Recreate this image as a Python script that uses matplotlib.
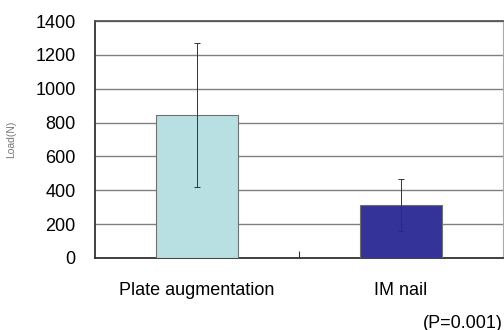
import matplotlib.pyplot as plt

# Data
categories = ["Plate augmentation", "IM nail"]
mean_load = [845, 313]
sd_load = [425, 155]
bar_colors = ["#b8e0e2", "#333399"]
y_ticks = [0, 200, 400, 600, 800, 1000, 1200, 1400]

plt.rcParams['font.family'] = ['Liberation Sans', 'DejaVu Sans']

fig = plt.figure(figsize=(5.04, 3.30), dpi=100)
ax = fig.add_axes([95 / 504, 72 / 330, 408 / 504, 237 / 330])

x = range(len(categories))
ax.bar(x, mean_load, width=0.4, color=bar_colors, edgecolor="#707070",
       linewidth=0.8, zorder=3)
ax.errorbar(x, mean_load, yerr=sd_load, fmt="none", ecolor="#333333",
            elinewidth=0.7, capsize=2.5, capthick=0.7, zorder=4)

ax.set_xlim(-0.5, 1.5)
ax.set_ylim(0, 1400)
ax.set_yticks(y_ticks)
ax.set_yticklabels([str(v) for v in y_ticks], fontsize=13)
ax.yaxis.grid(True, color="#808080", linewidth=1.0, zorder=0)
ax.set_axisbelow(True)

# category labels, with a single divider tick between categories
ax.set_xticks([0.5])
ax.set_xticklabels([""])
ax.tick_params(axis="x", direction="in", length=5, color="#333333")
ax.tick_params(axis="y", length=0, pad=14)
for i, name in enumerate(categories):
    ax.text(i, -140, name, ha="center", va="top", fontsize=13)

ax.spines["left"].set_color("#333333")
ax.spines["left"].set_linewidth(1.3)
ax.spines["bottom"].set_color("#333333")
ax.spines["bottom"].set_linewidth(1.3)
ax.spines["top"].set_color("#555555")
ax.spines["top"].set_linewidth(1.3)
ax.spines["right"].set_color("#aaaaaa")

ax.set_ylabel("Load(N)", fontsize=7.5, color="#777777", labelpad=14)

fig.text(503 / 504, 7 / 330, "(P=0.001)", ha="right", va="center",
         fontsize=13)

fig.savefig("out.png", dpi=100)
